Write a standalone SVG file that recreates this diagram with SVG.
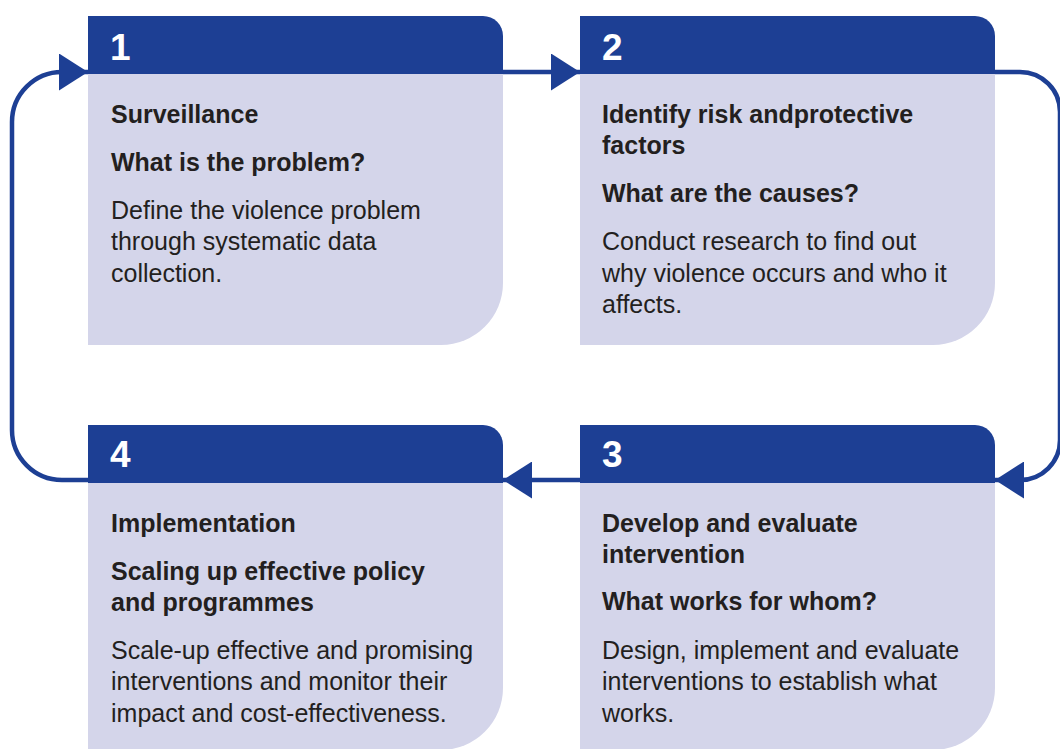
<svg xmlns="http://www.w3.org/2000/svg" width="1060" height="749" viewBox="0 0 1060 749">
  <defs>
    <style>
      .hdr { fill: #1d3f94; }
      .body { fill: #d4d5ea; }
      .num { font-family: "Liberation Sans", Arial, sans-serif; font-weight: 700; font-size: 37px; fill: #ffffff; }
      .title { font-family: "Liberation Sans", Arial, sans-serif; font-weight: 700; font-size: 25px; fill: #231f20; }
      .desc { font-family: "Liberation Sans", Arial, sans-serif; font-size: 25px; fill: #231f20; }
      .conn { fill: none; stroke: #1d3f94; stroke-width: 4.5; }
    </style>
    <marker id="arrow" markerUnits="userSpaceOnUse" markerWidth="30" markerHeight="37" refX="29" refY="18.5" orient="auto">
      <path d="M0,0 L29,18.5 L0,37 Z" fill="#1d3f94"/>
    </marker>
  </defs>

  <rect width="1060" height="749" fill="#ffffff"/>

  <!-- cycle connectors -->
  <g id="connectors">
    <path id="c4-1" class="conn" d="M88,480 H62 A50,50 0 0 1 12,430 V122 A50,50 0 0 1 62,72 H88" marker-end="url(#arrow)"/>
    <path id="c1-2" class="conn" d="M503,72 H580" marker-end="url(#arrow)"/>
    <path id="c2-3" class="conn" d="M995,72 H1020 A40,40 0 0 1 1060,112 V440 A40,40 0 0 1 1020,480 H995" marker-end="url(#arrow)"/>
    <path id="c3-4" class="conn" d="M580,480 H503" marker-end="url(#arrow)"/>
  </g>

  <!-- step 1 -->
  <g id="step1">
    <path class="body" d="M88,74 H503 V283 A62,62 0 0 1 441,345 H88 Z"/>
    <path class="hdr" d="M88,16 H483 A20,20 0 0 1 503,36 V74 H88 Z"/>
    <text class="num" x="110" y="60">1</text>
    <text class="title" x="111" y="122.5">Surveillance</text>
    <text class="title" x="111" y="171">What is the problem?</text>
    <text class="desc" x="111" y="218.5">Define the violence problem</text>
    <text class="desc" x="111" y="250">through systematic data</text>
    <text class="desc" x="111" y="281.5">collection.</text>
  </g>

  <!-- step 2 -->
  <g id="step2">
    <path class="body" d="M580,74 H995 V283 A62,62 0 0 1 933,345 H580 Z"/>
    <path class="hdr" d="M580,16 H975 A20,20 0 0 1 995,36 V74 H580 Z"/>
    <text class="num" x="602" y="60">2</text>
    <text class="title" x="602" y="123">Identify risk andprotective</text>
    <text class="title" x="602" y="153.5">factors</text>
    <text class="title" x="602" y="202">What are the causes?</text>
    <text class="desc" x="602" y="250">Conduct research to find out</text>
    <text class="desc" x="602" y="281.5">why violence occurs and who it</text>
    <text class="desc" x="602" y="313">affects.</text>
  </g>

  <!-- step 3 -->
  <g id="step3">
    <path class="body" d="M580,483 H995 V688 A62,62 0 0 1 933,750 H580 Z"/>
    <path class="hdr" d="M580,425 H975 A20,20 0 0 1 995,445 V483 H580 Z"/>
    <text class="num" x="602" y="467">3</text>
    <text class="title" x="602" y="532">Develop and evaluate</text>
    <text class="title" x="602" y="563">intervention</text>
    <text class="title" x="602" y="610">What works for whom?</text>
    <text class="desc" x="602" y="658.5">Design, implement and evaluate</text>
    <text class="desc" x="602" y="690">interventions to establish what</text>
    <text class="desc" x="602" y="721.5">works.</text>
  </g>

  <!-- step 4 -->
  <g id="step4">
    <path class="body" d="M88,483 H503 V688 A62,62 0 0 1 441,750 H88 Z"/>
    <path class="hdr" d="M88,425 H483 A20,20 0 0 1 503,445 V483 H88 Z"/>
    <text class="num" x="110" y="467">4</text>
    <text class="title" x="111" y="532">Implementation</text>
    <text class="title" x="111" y="580">Scaling up effective policy</text>
    <text class="title" x="111" y="610.5">and programmes</text>
    <text class="desc" x="111" y="658.5">Scale-up effective and promising</text>
    <text class="desc" x="111" y="690">interventions and monitor their</text>
    <text class="desc" x="111" y="721.5">impact and cost-effectiveness.</text>
  </g>
</svg>
